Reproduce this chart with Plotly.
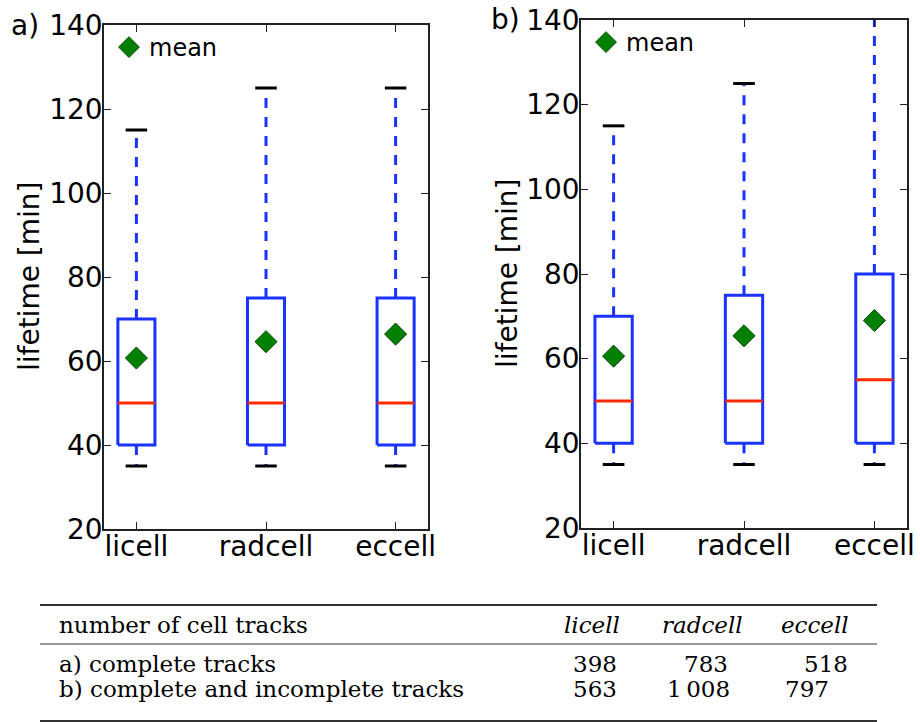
import plotly.graph_objects as go

# ---------------- data ----------------
categories = ["licell", "radcell", "eccell"]

# panel a) complete tracks
a_lower = [35, 35, 35]
a_q1 = [40, 40, 40]
a_median = [50, 50, 50]
a_q3 = [70, 75, 75]
a_upper = [115, 125, 125]
a_mean = [60.7, 64.6, 66.4]

# panel b) complete and incomplete tracks
b_lower = [35, 35, 35]
b_q1 = [40, 40, 40]
b_median = [50, 50, 55]
b_q3 = [70, 75, 80]
b_upper = [115, 125, 145]
b_mean = [60.6, 65.4, 69.0]

y_ticks = [20, 40, 60, 80, 100, 120, 140]

# table
table_header = "number of cell tracks"
table_rows = ["a) complete tracks", "b) complete and incomplete tracks"]
counts_complete = [398, 783, 518]
counts_all = [563, 1008, 797]

# ---------------- style / layout constants ----------------
W, H = 920, 722
BLUE = "#1a33ff"
RED = "#ff2a00"
GREEN = "#008000"
FRAME = "#222222"
SANS = "DejaVu Sans"
SERIF = "DejaVu Serif"
BOX_HW = 0.143
CAP_HW = 0.083
TFS = 23


def px(x):
    return x / W


def py(y):
    return 1 - y / H


fig = go.Figure()


def add_panel(lower, q1, med, q3, upper, mean, xa, ya, legend):
    xs = [i + 1 for i in range(len(categories))]
    # whiskers
    wx, wy = [], []
    for c, lo, a, b, hi in zip(xs, lower, q1, q3, upper):
        wx += [c, c, None, c, c, None]
        wy += [b, hi, None, a, lo, None]
    fig.add_trace(go.Scatter(x=wx, y=wy, mode="lines", xaxis=xa, yaxis=ya,
                             line=dict(color=BLUE, width=3, dash="10px,9px"),
                             showlegend=False, hoverinfo="skip"))
    # caps
    cx, cy = [], []
    for c, lo, hi in zip(xs, lower, upper):
        cx += [c - CAP_HW, c + CAP_HW, None, c - CAP_HW, c + CAP_HW, None]
        cy += [lo, lo, None, hi, hi, None]
    fig.add_trace(go.Scatter(x=cx, y=cy, mode="lines", xaxis=xa, yaxis=ya,
                             line=dict(color="black", width=3),
                             showlegend=False, hoverinfo="skip"))
    # boxes
    bx, by = [], []
    for c, a, b in zip(xs, q1, q3):
        bx += [c - BOX_HW, c + BOX_HW, c + BOX_HW, c - BOX_HW, c - BOX_HW, None]
        by += [a, a, b, b, a, None]
    fig.add_trace(go.Scatter(x=bx, y=by, mode="lines", xaxis=xa, yaxis=ya,
                             line=dict(color=BLUE, width=3),
                             showlegend=False, hoverinfo="skip"))
    # medians
    mx, my = [], []
    for c, m in zip(xs, med):
        mx += [c - BOX_HW, c + BOX_HW, None]
        my += [m, m, None]
    fig.add_trace(go.Scatter(x=mx, y=my, mode="lines", xaxis=xa, yaxis=ya,
                             line=dict(color=RED, width=3),
                             showlegend=False, hoverinfo="skip"))
    # means
    fig.add_trace(go.Scatter(x=xs, y=mean, mode="markers", xaxis=xa, yaxis=ya,
                             name="mean", legend=legend,
                             marker=dict(symbol="diamond", size=17, color=GREEN,
                                         line=dict(color="#0a4a0a", width=1)),
                             showlegend=True))


add_panel(a_lower, a_q1, a_median, a_q3, a_upper, a_mean, "x", "y", "legend")
add_panel(b_lower, b_q1, b_median, b_q3, b_upper, b_mean, "x2", "y2", "legend2")

axis_common = dict(showline=True, linecolor=FRAME, linewidth=1.5, mirror="allticks",
                   ticks="inside", ticklen=7, tickwidth=1, tickcolor=FRAME,
                   showgrid=False, zeroline=False, automargin=False,
                   tickfont=dict(family=SANS, size=28, color="black"))

xcommon = dict(axis_common, tickvals=[1, 2, 3], ticktext=categories, range=[0.75, 3.25],
               ticklabelstandoff=-8)
ycommon = dict(axis_common, tickvals=y_ticks, range=[20, 140], ticklabelstandoff=-6)

# table: rules and text
shapes = []
for yy, lw in [(605, 2), (644, 1.2), (721, 2)]:
    shapes.append(dict(type="line", xref="paper", yref="paper",
                       x0=px(40), x1=px(877), y0=py(yy), y1=py(yy),
                       line=dict(color="#333333", width=lw)))

header_x = [592, 702, 815]
cell_x = [[595, 706, 826], [595, 698, 807]]
row_y = [664, 689]

annotations = []
annotations.append(dict(text=table_header, x=px(57), y=py(625), xref="paper", yref="paper",
                        xanchor="left", yanchor="middle", showarrow=False,
                        font=dict(family=SERIF, size=TFS, color="black")))
for cx_, name in zip(header_x, categories):
    annotations.append(dict(text="<i>" + name + "</i>", x=px(cx_), y=py(625),
                            xref="paper", yref="paper", xanchor="center", yanchor="middle",
                            showarrow=False, font=dict(family=SERIF, size=TFS, color="black")))
for r, (label, counts) in enumerate(zip(table_rows, [counts_complete, counts_all])):
    annotations.append(dict(text=label, x=px(57), y=py(row_y[r]), xref="paper", yref="paper",
                            xanchor="left", yanchor="middle", showarrow=False,
                            font=dict(family=SERIF, size=TFS, color="black")))
    for cxx, v in zip(cell_x[r], counts):
        s = f"{v:,}".replace(",", "\u2009")
        annotations.append(dict(text=s, x=px(cxx), y=py(row_y[r]), xref="paper", yref="paper",
                                xanchor="center", yanchor="middle", showarrow=False,
                                font=dict(family=SERIF, size=TFS, color="black")))

# panel labels and y-axis titles
annotations += [
    dict(text="a)", x=px(9), y=py(26), xref="paper", yref="paper", xanchor="left",
         yanchor="middle", showarrow=False, font=dict(family=SANS, size=28, color="black")),
    dict(text="b)", x=px(489), y=py(20), xref="paper", yref="paper", xanchor="left",
         yanchor="middle", showarrow=False, font=dict(family=SANS, size=28, color="black")),
    dict(text="lifetime [min]", x=px(29), y=py(277), xref="paper", yref="paper",
         xanchor="center", yanchor="middle", textangle=-90, showarrow=False,
         font=dict(family=SANS, size=28, color="black")),
    dict(text="lifetime [min]", x=px(508), y=py(274), xref="paper", yref="paper",
         xanchor="center", yanchor="middle", textangle=-90, showarrow=False,
         font=dict(family=SANS, size=28, color="black")),
]

legend_common = dict(xanchor="left", yanchor="middle", bgcolor="rgba(0,0,0,0)",
                     borderwidth=0, itemwidth=30,
                     font=dict(family=SANS, size=24, color="black"))

fig.update_layout(
    width=W, height=H,
    margin=dict(l=0, r=0, t=0, b=0, autoexpand=False),
    paper_bgcolor="white", plot_bgcolor="white",
    xaxis=dict(xcommon, domain=[px(104), px(428)], anchor="y"),
    yaxis=dict(ycommon, domain=[py(529), py(25)], anchor="x"),
    xaxis2=dict(xcommon, domain=[px(581), px(907)], anchor="y2"),
    yaxis2=dict(ycommon, domain=[py(528), py(20)], anchor="x2"),
    legend=dict(legend_common, x=px(109), y=py(47.5)),
    legend2=dict(legend_common, x=px(586), y=py(42.5)),
    shapes=shapes,
    annotations=annotations,
)

fig.write_html("out.html")
